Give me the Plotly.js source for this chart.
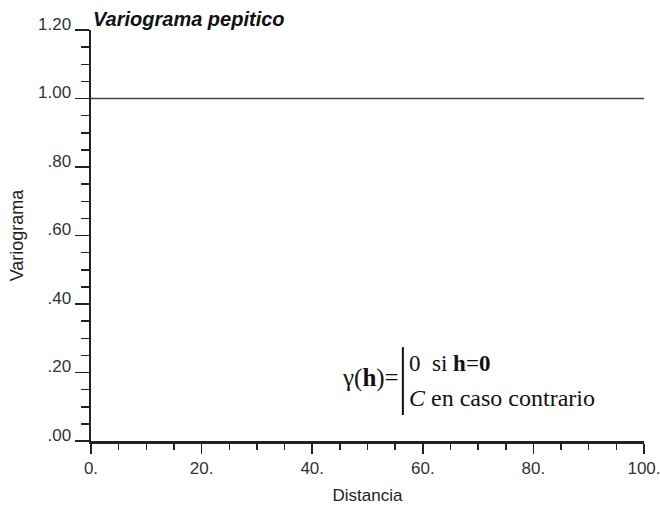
<!DOCTYPE html>
<html>
<head>
<meta charset="utf-8">
<script src="https://cdn.plot.ly/plotly-3.0.1.min.js"></script>
<style>html,body{margin:0;padding:0;background:#fff;}#chart{width:660px;height:508px;}</style>
</head>
<body>
<div id="chart"></div>
<script>
// Data
const distancia = [0, 100];
const variograma = [1.0, 1.0];
const xTickVals = [0, 20, 40, 60, 80, 100];
const xTickText = ["0.", "20.", "40.", "60.", "80.", "100."];
const yTickVals = [0, 0.2, 0.4, 0.6, 0.8, 1.0, 1.2];
const yTickText = [".00", ".20", ".40", ".60", ".80", "1.00", "1.20"];
const titleText = "Variograma pepitico";
const xTitle = "Distancia";
const yTitle = "Variograma";
const eqLeft = "γ(<b>h</b>)=";
const eqRow1 = "0  si <b>h</b>=<b>0</b>";
const eqRow2 = "<i>C</i> en caso contrario";

const axisColor = "#222";
const font = "Liberation Sans, Arial, sans-serif";
const serif = "Liberation Serif, Times New Roman, serif";

const trace = {
  x: distancia, y: variograma, type: "scatter", mode: "lines",
  line: {color: "#444", width: 1.5}, hoverinfo: "skip", showlegend: false
};

const layout = {
  width: 660, height: 508,
  margin: {l: 91, r: 16, t: 30, b: 67, pad: 0},
  paper_bgcolor: "#fff", plot_bgcolor: "#fff",
  font: {family: font, color: "#222", size: 15},
  title: {
    text: "<b><i>" + titleText + "</i></b>",
    font: {family: font, size: 20, color: "#111"},
    x: 93/660, xanchor: "left", xref: "container",
    y: 1 - 19/508, yanchor: "middle", yref: "container"
  },
  xaxis: {
    range: [0, 100], showgrid: false, zeroline: false,
    showline: true, linecolor: axisColor, linewidth: 2.5,
    ticks: "outside", ticklen: 10, tickwidth: 1.5, tickcolor: axisColor,
    tickvals: xTickVals, ticktext: xTickText,
    tickfont: {family: font, size: 17, color: "#333"},
    ticklabeloverflow: "allow",
    minor: {dtick: 5, ticks: "outside", ticklen: 6, tickwidth: 1.5, tickcolor: axisColor, showgrid: false},
    title: {text: xTitle, font: {family: font, size: 17, color: "#222"}, standoff: 12},
    fixedrange: true
  },
  yaxis: {
    range: [0, 1.2], showgrid: false, zeroline: false,
    showline: true, linecolor: axisColor, linewidth: 2.5,
    ticks: "outside", ticklen: 14, tickwidth: 1.5, tickcolor: axisColor,
    tickvals: yTickVals, ticktext: yTickText,
    tickfont: {family: font, size: 17, color: "#333"},
    ticklabelshift: -6,
    ticklabeloverflow: "allow",
    minor: {dtick: 0.05, ticks: "outside", ticklen: 8, tickwidth: 1.5, tickcolor: axisColor, showgrid: false},
    title: {text: yTitle, font: {family: font, size: 18, color: "#222"}, standoff: 10},
    fixedrange: true
  },
  shapes: [
    {type: "line", xref: "x", yref: "y", x0: 56.4, x1: 56.4, y0: 0.076, y1: 0.274,
     line: {color: "#111", width: 2}}
  ],
  annotations: [
    {text: eqLeft, x: 56.0, y: 0.184, xref: "x", yref: "y", xanchor: "right", yanchor: "middle",
     showarrow: false, font: {family: serif, size: 25, color: "#111"}},
    {text: eqRow1, x: 57.2, y: 0.225, xref: "x", yref: "y", xanchor: "left", yanchor: "middle",
     showarrow: false, font: {family: serif, size: 23, color: "#111"}},
    {text: eqRow2, x: 57.2, y: 0.1255, xref: "x", yref: "y", xanchor: "left", yanchor: "middle",
     showarrow: false, font: {family: serif, size: 24, color: "#111"}}
  ]
};

Plotly.newPlot("chart", [trace], layout, {displayModeBar: false, staticPlot: true});
</script>
</body>
</html>
